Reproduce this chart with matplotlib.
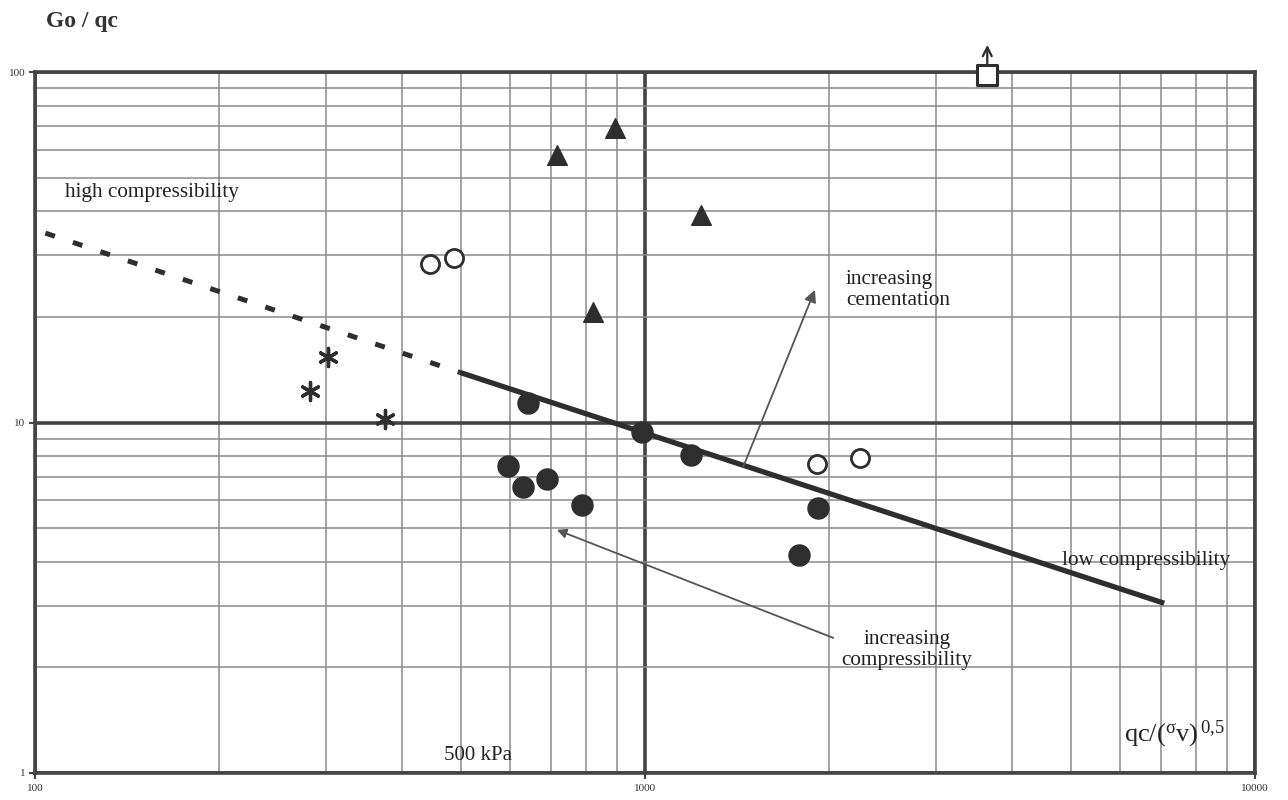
import matplotlib.pyplot as plt
from matplotlib.ticker import LogLocator, NullFormatter

plt.rcParams['font.family'] = ['Liberation Serif', 'DejaVu Serif']
plt.rcParams['mathtext.fontset'] = 'custom'
plt.rcParams['mathtext.rm'] = 'Liberation Serif'
plt.rcParams['mathtext.it'] = 'Liberation Serif'

# =========================
# DATOS
# =========================
star_x = [282, 302, 375]
star_y = [12.3, 15.4, 10.2]

open_x = [444, 487, 1914, 2251]
open_y = [28.3, 29.5, 7.6, 7.9]

tri_x = [717, 893, 822, 1236]
tri_y = [58.0, 69.2, 20.7, 39.1]

dot_x = [596, 631, 643, 691, 788, 989, 1190, 1788, 1921]
dot_y = [7.5, 6.55, 11.4, 6.9, 5.8, 9.4, 8.1, 4.2, 5.7]

square_x = [3640]
square_y = [98]

# linea de tendencia (continua) y su prolongacion (discontinua)
trend_x = [497, 7100]
trend_y = [13.9, 3.05]
ext_x = [104, 497]
ext_y = [34.7, 13.9]

# flechas
cement_x = [1450, 1899]
cement_y = [7.5, 23.9]
compr_x = [2035, 717]
compr_y = [2.43, 4.94]

W, H = 1288, 800
dark = '#2e2e2e'


def fpos(px, py):
    return px / W, 1 - py / H


fig = plt.figure(figsize=(W / 100, H / 100), dpi=100)
ax = fig.add_axes([35 / W, 27 / H, 1220 / W, 701 / H])

ax.set_xscale('log')
ax.set_yscale('log')
ax.set_xlim(100, 10000)
ax.set_ylim(1, 100)

# rejilla
ax.xaxis.set_minor_locator(LogLocator(base=10, subs=range(2, 10)))
ax.yaxis.set_minor_locator(LogLocator(base=10, subs=range(2, 10)))
ax.xaxis.set_minor_formatter(NullFormatter())
ax.yaxis.set_minor_formatter(NullFormatter())
ax.grid(which='minor', color='#8a8a8a', linewidth=1.1)
ax.grid(which='major', color='#444444', linewidth=2.6)
ax.set_axisbelow(True)

for s in ax.spines.values():
    s.set_color('#444444')
    s.set_linewidth(2.6)

ax.set_xticks([100, 1000, 10000])
ax.set_xticklabels(['100', '1000', '10000'])
ax.set_yticks([1, 10, 100])
ax.set_yticklabels(['1', '10', '100'])
ax.tick_params(which='major', length=4, width=1.5, color='#444444',
               labelsize=8, labelcolor='#333333')
ax.tick_params(which='minor', length=0)
ax.tick_params(axis='x', pad=4)
ax.tick_params(axis='y', pad=3)

# lineas de tendencia
ax.plot(trend_x, trend_y, color=dark, linewidth=3.8, solid_capstyle='butt')
ax.plot(ext_x, ext_y, color=dark, linewidth=3.6, linestyle=(0, (2.0, 3.8)))

# flechas
ax.annotate('', xy=(cement_x[1], cement_y[1]), xytext=(cement_x[0], cement_y[0]),
            arrowprops=dict(arrowstyle='-|>', color='#555555', lw=1.3,
                            mutation_scale=18, shrinkA=0, shrinkB=0))
ax.annotate('', xy=(compr_x[1], compr_y[1]), xytext=(compr_x[0], compr_y[0]),
            arrowprops=dict(arrowstyle='-|>', color='#555555', lw=1.3,
                            mutation_scale=14, shrinkA=0, shrinkB=0))

# puntos
ax.scatter(star_x, star_y, marker=(6, 2, 0), s=170, color=dark,
           linewidths=2.4, zorder=5)
ax.scatter(open_x, open_y, marker='o', s=170, facecolors='white',
           edgecolors=dark, linewidths=2, zorder=5)
ax.scatter(tri_x, tri_y, marker='^', s=200, color=dark, zorder=5)
ax.scatter(dot_x, dot_y, marker='o', s=230, color=dark, zorder=5)
ax.scatter(square_x, square_y, marker='s', s=220, facecolors='white',
           edgecolors=dark, linewidths=2.2, zorder=6, clip_on=False)
ax.annotate('', xy=(square_x[0], square_y[0] * 1.22),
            xytext=(square_x[0], square_y[0] * 1.07),
            arrowprops=dict(arrowstyle='->', color=dark, lw=1.6,
                            mutation_scale=16, shrinkA=0, shrinkB=0),
            annotation_clip=False)

# textos
fs = 15.3
fig.text(*fpos(82, 22), 'Go / qc', fontsize=17, fontweight='bold',
         color='#333333', ha='center', va='center')
fig.text(*fpos(65, 192), 'high compressibility', fontsize=fs,
         color='#222222', ha='left', va='center')
fig.text(*fpos(846, 290), 'increasing\ncementation', fontsize=fs,
         color='#222222', ha='left', va='center', linespacing=1.2)
fig.text(*fpos(907, 650), 'increasing\ncompressibility', fontsize=fs,
         color='#222222', ha='center', va='center', linespacing=1.2)
fig.text(*fpos(1062, 561), 'low compressibility', fontsize=fs,
         color='#222222', ha='left', va='center')
fig.text(*fpos(1124, 741), r'qc/($^{\sigma}$v)$^{\,0{,}5}$', fontsize=19,
         color='#222222', ha='left', va='baseline')
fig.text(*fpos(478, 755), '500 kPa', fontsize=15,
         color='#222222', ha='center', va='center')

fig.savefig('out.png', dpi=100, facecolor='white')
